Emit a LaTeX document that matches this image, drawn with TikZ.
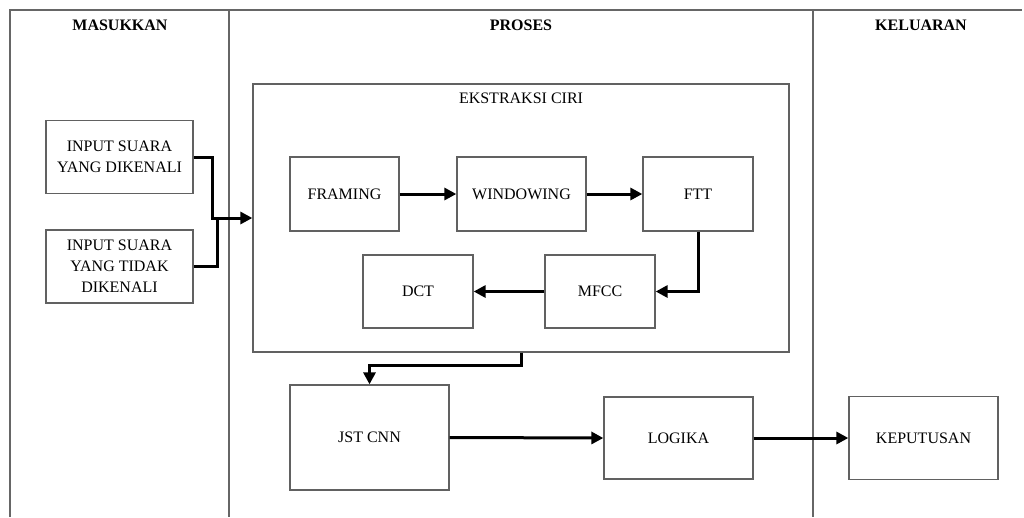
\documentclass[tikz,border=0pt]{standalone}
\usepackage{fontspec}
\setmainfont{Liberation Serif}
\usetikzlibrary{arrows.meta}
\begin{document}
\begin{tikzpicture}[x=1pt,y=-1pt,
  every node/.style={font=\fontsize{16}{21}\selectfont, text=black},
  box/.style={draw=black!62, line width=1.3pt, rectangle, align=center, inner sep=0pt},
  lane/.style={draw=black!60, line width=1.5pt},
  arr/.style={draw=black, line width=3pt, -{Triangle[length=12pt,width=12pt]}},
  plain/.style={draw=black, line width=3pt},
  hdr/.style={font=\fontsize{16}{21}\selectfont\bfseries}]
\useasboundingbox (0,0) rectangle (1024,517);
% lanes
\draw[lane] (10,517) -- (10,10) -- (1022,10);
\draw[lane] (229,10) -- (229,517);
\draw[lane] (813,10) -- (813,517);
\node[hdr] (h1) at (120,25) {MASUKKAN};
\node[hdr] (h2) at (521,25) {PROSES};
\node[hdr] (h3) at (921,25) {KELUARAN};
% inputs
\node[box, minimum width=147pt, minimum height=73pt] (in1) at (119.5,157) {INPUT SUARA\\YANG DIKENALI};
\node[box, minimum width=147pt, minimum height=73pt] (in2) at (119.5,266.5) {INPUT SUARA\\YANG TIDAK\\DIKENALI};
% ekstraksi
\node[box, minimum width=536pt, minimum height=268pt] (eks) at (521,218) {};
\node (eksT) at (521,98) {EKSTRAKSI CIRI};
\node[box, minimum width=109pt, minimum height=74pt] (fr) at (344.5,194) {FRAMING};
\node[box, minimum width=129pt, minimum height=74pt] (wi) at (521.5,194) {WINDOWING};
\node[box, minimum width=110pt, minimum height=74pt] (ftt) at (698,194) {FTT};
\node[box, minimum width=110pt, minimum height=73pt] (dct) at (418,291.5) {DCT};
\node[box, minimum width=110pt, minimum height=73pt] (mfcc) at (600,291.5) {MFCC};
\node[box, minimum width=159pt, minimum height=105pt] (jst) at (369.5,437.5) {JST CNN};
\node[box, minimum width=149pt, minimum height=82pt] (log) at (678.5,438) {LOGIKA};
\node[box, minimum width=149pt, minimum height=83pt] (kep) at (923.5,438) {KEPUTUSAN};
% connectors
\coordinate (j1) at (212,218);
\coordinate (j2) at (217,218);
\draw[plain] (in2.east) -| (j2);
\draw[arr] (in1.east) -| (j1) -- (eks.west);
\draw[arr] (fr.east) -- (wi.west);
\draw[arr] (wi.east) -- (ftt.west);
\draw[arr] (ftt.south) |- (mfcc.east);
\draw[arr] (mfcc.west) -- (dct.east);
\draw[arr] (eks.south) -- ++(0,13) -| (jst.north);
\draw[arr] (jst.east) -- (log.west);
\draw[arr] (log.east) -- (kep.west);
\end{tikzpicture}
\end{document}
